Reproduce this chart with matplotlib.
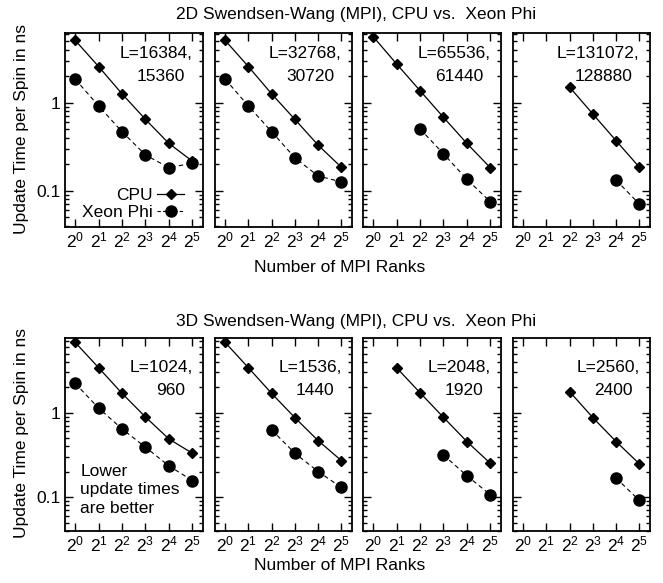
import numpy as np
import matplotlib
matplotlib.use("Agg")
import matplotlib.pyplot as plt
from matplotlib import font_manager as fm
from matplotlib.ticker import FixedLocator, NullLocator, LogLocator, NullFormatter

# ---------------- data ----------------
ranks = [1, 2, 4, 8, 16, 32]
nan = np.nan

# 2D Swendsen-Wang
cpu_2d = [
    [5.1, 2.57, 1.26, 0.647, 0.345, 0.217],
    [5.1, 2.57, 1.26, 0.647, 0.33, 0.185],
    [5.62, 2.75, 1.37, 0.683, 0.345, 0.183],
    [nan, nan, 1.50, 0.744, 0.37, 0.185],
]
phi_2d = [
    [1.85, 0.917, 0.468, 0.255, 0.183, 0.205],
    [1.85, 0.917, 0.468, 0.237, 0.147, 0.126],
    [nan, nan, 0.503, 0.263, 0.135, 0.075],
    [nan, nan, nan, nan, 0.132, 0.0706],
]
labels_2d = [("L=16384,", "15360"), ("L=32768,", "30720"),
             ("L=65536,", "61440"), ("L=131072,", "128880")]

# 3D Swendsen-Wang
cpu_3d = [
    [6.78, 3.40, 1.69, 0.889, 0.489, 0.331],
    [6.78, 3.40, 1.69, 0.873, 0.467, 0.271],
    [nan, 3.40, 1.72, 0.88, 0.455, 0.252],
    [nan, nan, 1.77, 0.873, 0.455, 0.248],
]
phi_3d = [
    [2.22, 1.13, 0.642, 0.39, 0.235, 0.157],
    [nan, nan, 0.625, 0.331, 0.201, 0.130],
    [nan, nan, nan, 0.316, 0.179, 0.107],
    [nan, nan, nan, nan, 0.168, 0.0914],
]
labels_3d = [("L=1024,", "960"), ("L=1536,", "1440"),
             ("L=2048,", "1920"), ("L=2560,", "2400")]

xtick_labels = [r"$\mathregular{2^{%d}}$" % k for k in range(6)]
series_names = ["CPU", "Xeon Phi"]
title_2d = "2D Swendsen-Wang (MPI), CPU vs.  Xeon Phi"
title_3d = "3D Swendsen-Wang (MPI), CPU vs.  Xeon Phi"
xlabel = "Number of MPI Ranks"
ylabel = "Update Time per Spin in ns"

# ---------------- fonts ----------------
try:
    fm.findfont("Liberation Sans Narrow", fallback_to_default=False)
    fam = "Liberation Sans Narrow"
    fs = 14.5
except Exception:
    fam = "Liberation Sans"
    fs = 12.5
plt.rcParams["font.family"] = [fam, "DejaVu Sans"]
plt.rcParams["font.size"] = fs
plt.rcParams["mathtext.fontset"] = "custom"
plt.rcParams["mathtext.rm"] = fam
plt.rcParams["mathtext.it"] = fam
plt.rcParams["mathtext.bf"] = fam

W, H = 663, 583
fig = plt.figure(figsize=(W / 100, H / 100), dpi=100)

def px2fig(x0, x1, ytop, ybot):
    return [x0 / W, 1 - ybot / H, (x1 - x0) / W, (ybot - ytop) / H]

panel_x = [(65, 203), (215, 352), (363, 501), (513, 650)]
rows = [
    dict(ytop=33.3, ybot=226.7, ylim=(0.039, 6.15), cpu=cpu_2d, phi=phi_2d, labels=labels_2d,
         ly=(0.893, 0.779)),
    dict(ytop=338.3, ybot=530.7, ylim=(0.040, 7.6), cpu=cpu_3d, phi=phi_3d, labels=labels_3d,
         ly=(0.846, 0.731)),
]

axes = []
for r, row in enumerate(rows):
    for i, (x0, x1) in enumerate(panel_x):
        ax = fig.add_axes(px2fig(x0, x1, row["ytop"], row["ybot"]))
        axes.append(ax)
        ax.set_xscale("log", base=2)
        ax.set_yscale("log")
        ax.set_xlim(2 ** -0.44, 2 ** 5.46)
        ax.set_ylim(*row["ylim"])
        ax.plot(ranks, row["cpu"][i], color="black", lw=0.9, ls="-",
                marker="D", ms=5.6, mfc="black", mec="black", label=series_names[0],
                clip_on=False)
        ax.plot(ranks, row["phi"][i], color="black", lw=0.8, ls=(0, (4, 3)),
                marker="o", ms=8.0, mfc="black", mec="black", label=series_names[1],
                clip_on=False)
        ax.xaxis.set_major_locator(FixedLocator(ranks))
        ax.xaxis.set_minor_locator(NullLocator())
        ax.set_xticklabels(xtick_labels)
        ax.yaxis.set_major_locator(FixedLocator([0.1, 1]))
        ax.yaxis.set_minor_locator(LogLocator(base=10, subs=np.arange(2, 10) * 1.0, numticks=20))
        ax.yaxis.set_minor_formatter(NullFormatter())
        if i == 0:
            ax.set_yticklabels(["0.1", "1"])
        else:
            ax.set_yticklabels([])
        ax.tick_params(which="both", direction="in", top=True, right=True, width=1.0)
        ax.tick_params(which="major", length=5.5, labelsize=fs)
        ax.tick_params(which="minor", length=2.8)
        ax.tick_params(axis="x", pad=3)
        ax.tick_params(axis="y", pad=3)
        for s in ax.spines.values():
            s.set_linewidth(1.3)
        t1, t2 = row["labels"][i]
        ax.text(0.925, row["ly"][0], t1, transform=ax.transAxes, ha="right", va="center", fontsize=fs)
        ax.text(0.87, row["ly"][1], t2, transform=ax.transAxes, ha="right", va="center", fontsize=fs)
        if r == 0 and i == 0:
            leg = ax.legend(loc="lower right", bbox_to_anchor=(0.865, 0.035), markerfirst=False,
                            frameon=False, handlelength=1.55, handletextpad=0.3, labelspacing=0.12,
                            borderpad=0, borderaxespad=0, fontsize=fs)
            for hl in leg.get_lines():
                if hl.get_marker() == "o":
                    hl.set_linestyle((0, (3, 2)))
        if r == 1 and i == 0:
            ax.text(0.11, 0.213, "Lower\nupdate times\nare better", transform=ax.transAxes,
                    ha="left", va="center", fontsize=fs, linespacing=1.3)

# titles, axis labels
fig.text(356 / W, 1 - 15 / H, title_2d, ha="center", va="center", fontsize=fs)
fig.text(356 / W, 1 - 321.5 / H, title_3d, ha="center", va="center", fontsize=fs)
fig.text(340 / W, 1 - 268 / H, xlabel, ha="center", va="center", fontsize=fs)
fig.text(340 / W, 1 - 565 / H, xlabel, ha="center", va="center", fontsize=fs)
fig.text(22 / W, 1 - 129 / H, ylabel, ha="center", va="center", rotation=90, fontsize=fs)
fig.text(22 / W, 1 - 433 / H, ylabel, ha="center", va="center", rotation=90, fontsize=fs)

fig.savefig("out.png", dpi=100)
